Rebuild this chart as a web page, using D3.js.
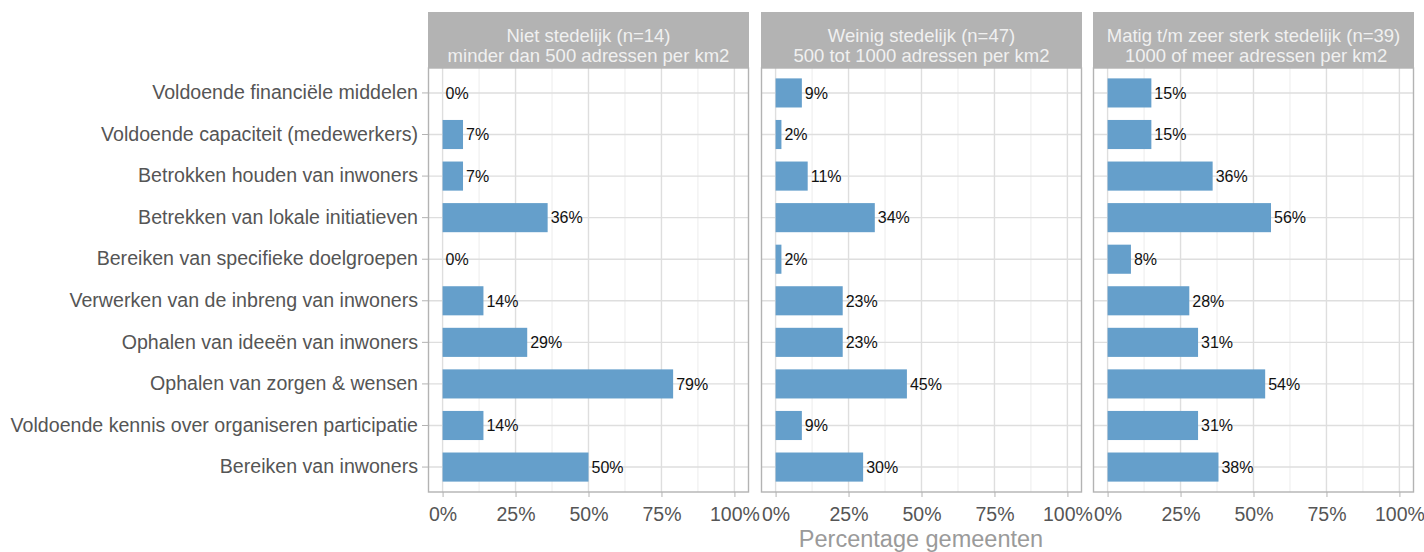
<!DOCTYPE html>
<html><head><meta charset="utf-8">
<script src="https://cdn.jsdelivr.net/npm/d3@7"></script>
<style>body{margin:0;background:#fff}svg{display:block;font-family:"Liberation Sans",Arial,sans-serif}</style>
</head><body><svg id="c" width="1424" height="552"></svg>
<script>
const categories = [
  "Voldoende financiële middelen",
  "Voldoende capaciteit (medewerkers)",
  "Betrokken houden van inwoners",
  "Betrekken van lokale initiatieven",
  "Bereiken van specifieke doelgroepen",
  "Verwerken van de inbreng van inwoners",
  "Ophalen van ideeën van inwoners",
  "Ophalen van zorgen & wensen",
  "Voldoende kennis over organiseren participatie",
  "Bereiken van inwoners"
];
const panelTitles = [
  ["Niet stedelijk (n=14)", "minder dan 500 adressen per km2"],
  ["Weinig stedelijk (n=47)", "500 tot 1000 adressen per km2"],
  ["Matig t/m zeer sterk stedelijk (n=39)", " 1000 of meer adressen per km2"]
];
const nietStedelijk = [0, 7, 7, 36, 0, 14, 29, 79, 14, 50];
const weinigStedelijk = [9, 2, 11, 34, 2, 23, 23, 45, 9, 30];
const matigZeerSterk = [15, 15, 36, 56, 8, 28, 31, 54, 31, 38];
const series = [nietStedelijk, weinigStedelijk, matigZeerSterk];
const xTicks = [0, 25, 50, 75, 100];
const xMinor = [12.5, 37.5, 62.5, 87.5];
const xTitle = "Percentage gemeenten";

(function () {
const svg = d3.select("#c");
const panelLefts = [428, 761, 1093];
const panelW = 321;
const pTop = 68, pBottom = 492, stripTop = 12;
const FF = "Liberation Sans, Arial, sans-serif";

const y = d3.scaleBand().domain(categories).range([pTop, pBottom]).paddingInner(0.3).paddingOuter(0.25);
const yc = c => y(c) + y.bandwidth() / 2;
const barH = y.bandwidth();

series.forEach((vals, i) => {
  const L = panelLefts[i];
  const x = d3.scaleLinear().domain([-5, 105]).range([L, L + panelW]);
  const g = svg.append("g");
  g.selectAll(".mn").data(xMinor).join("line")
    .attr("x1", d => x(d)).attr("x2", d => x(d)).attr("y1", pTop).attr("y2", pBottom)
    .attr("stroke", "#ececec").attr("stroke-width", 1);
  g.selectAll(".mj").data(xTicks).join("line")
    .attr("x1", d => x(d)).attr("x2", d => x(d)).attr("y1", pTop).attr("y2", pBottom)
    .attr("stroke", "#dedede").attr("stroke-width", 1.4);
  g.selectAll(".hy").data(categories).join("line")
    .attr("x1", L).attr("x2", L + panelW).attr("y1", d => yc(d)).attr("y2", d => yc(d))
    .attr("stroke", "#dedede").attr("stroke-width", 1.4);
  g.selectAll("rect.bar").data(vals).join("rect")
    .attr("x", x(0)).attr("y", (d, j) => y(categories[j]))
    .attr("width", d => x(d) - x(0)).attr("height", barH)
    .attr("fill", "#659fcb");
  g.selectAll("text.lab").data(vals).join("text")
    .attr("x", d => x(d) + 3).attr("y", (d, j) => yc(categories[j]))
    .attr("dy", "0.36em").attr("font-size", 16).attr("fill", "#111")
    .text(d => d + "%");
  g.append("rect").attr("x", L + 0.5).attr("y", pTop).attr("width", panelW - 1).attr("height", pBottom - pTop)
    .attr("fill", "none").attr("stroke", "#b3b3b3").attr("stroke-width", 1.4);
  g.append("rect").attr("x", L).attr("y", stripTop).attr("width", panelW).attr("height", pTop - stripTop)
    .attr("fill", "#b3b3b3");
  panelTitles[i].forEach((t, k) => {
    g.append("text").attr("x", L + panelW / 2).attr("y", 42 + k * 20)
      .attr("text-anchor", "middle").attr("font-size", 18.5).attr("fill", "#f0f0f0")
      .style("white-space", "pre").text(t);
  });
  const ax = g.append("g").attr("transform", `translate(0,${pBottom})`)
    .call(d3.axisBottom(x).tickValues(xTicks).tickFormat(d => d + "%").tickSize(5).tickPadding(10));
  ax.select(".domain").remove();
  ax.selectAll("line").attr("stroke", "#b3b3b3");
  ax.selectAll("text").attr("font-size", 19.5).attr("fill", "#555").attr("font-family", FF);
});

const yax = svg.append("g").attr("transform", `translate(${panelLefts[0]},0)`)
  .call(d3.axisLeft(y).tickSize(6).tickPadding(4));
yax.select(".domain").remove();
yax.selectAll("line").attr("stroke", "#b3b3b3");
yax.selectAll("text").attr("font-size", 19.6).attr("fill", "#555").attr("font-family", FF);

svg.append("text").attr("x", (panelLefts[0] + panelLefts[2] + panelW) / 2).attr("y", 547)
  .attr("text-anchor", "middle").attr("font-size", 23.5).attr("fill", "#9a9a9a").text(xTitle);
})();
</script></body></html>
